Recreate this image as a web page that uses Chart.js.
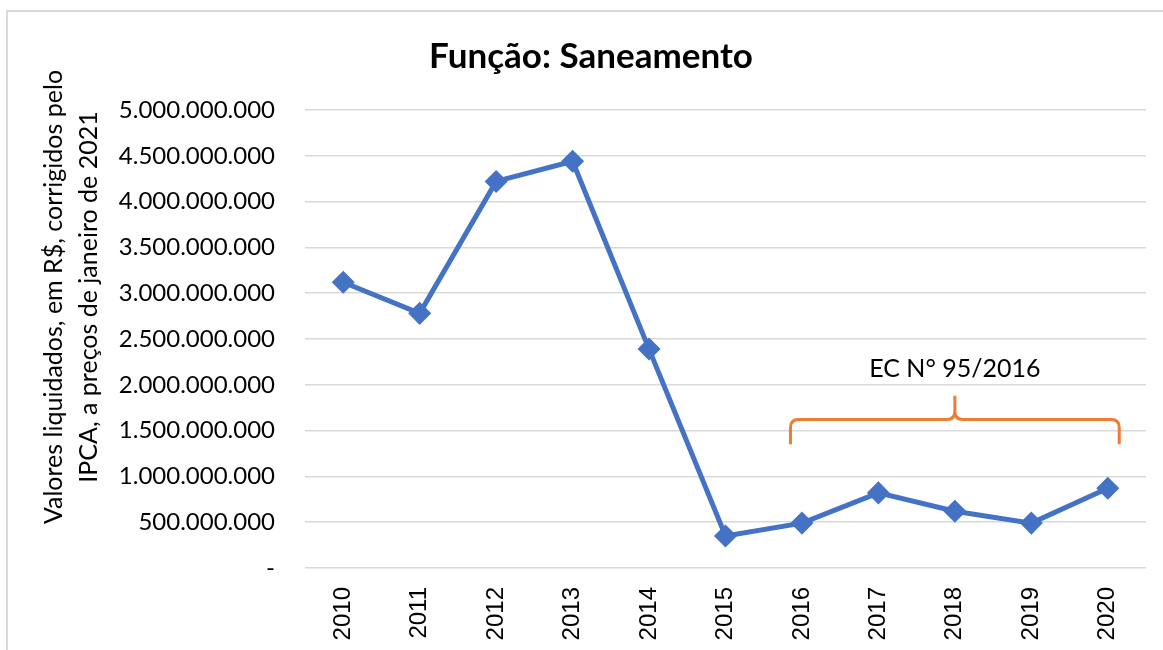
<!DOCTYPE html>
<html>

<head>
    <title>Função: Saneamento</title>
    <script src="https://cdn.jsdelivr.net/npm/chart.js"></script>
    <style>
        body {
            margin: 0;
            background: #ffffff;
        }
    </style>
</head>

<body>
    <canvas id="myChart" width="1163" height="650"></canvas>

    <script>
        // Data
        const years = ['2010', '2011', '2012', '2013', '2014', '2015', '2016', '2017', '2018', '2019', '2020'];
        const valores = [3120000000, 2780000000, 4220000000, 4440000000, 2390000000, 350000000, 490000000, 820000000, 620000000, 490000000, 870000000];
        const yTicks = [0, 500000000, 1000000000, 1500000000, 2000000000, 2500000000, 3000000000, 3500000000, 4000000000, 4500000000, 5000000000];
        const yTitleLines = ['Valores liquidados, em R$, corrigidos pelo', 'IPCA, a preços de janeiro de 2021'];
        const braceYears = ['2016', '2020'];
        const braceLabel = 'EC N° 95/2016';

        function formatBR(v) {
            if (v === 0) return '-';
            return String(v).replace(/\B(?=(\d{3})+(?!\d))/g, '.');
        }

        // Outer frame like the Excel chart area
        const framePlugin = {
            id: 'frame',
            beforeDraw(chart) {
                const c = chart.ctx;
                c.save();
                c.fillStyle = '#ffffff';
                c.fillRect(0, 0, chart.width, chart.height);
                c.strokeStyle = '#d9d9d9';
                c.lineWidth = 2;
                c.beginPath();
                c.moveTo(7, chart.height);
                c.lineTo(7, 11);
                c.lineTo(chart.width, 11);
                c.stroke();
                c.restore();
            }
        };

        // Vertical axis title, two lines, sits a bit above the plot centre in the original
        const yTitlePlugin = {
            id: 'yTitle',
            afterDraw(chart) {
                const c = chart.ctx;
                c.save();
                c.translate(54, 297);
                c.rotate(-Math.PI / 2);
                c.fillStyle = '#000000';
                c.font = '25px Lato';
                c.textAlign = 'center';
                c.textBaseline = 'middle';
                yTitleLines.forEach((t, i) => c.fillText(t, 0, i * 35));
                c.restore();
            }
        };

        // Orange curly brace over 2016-2020 with the label
        const bracePlugin = {
            id: 'brace',
            afterDatasetsDraw(chart) {
                const x = chart.scales.x;
                const y = chart.scales.y;
                const step = x.getPixelForValue(1) - x.getPixelForValue(0);
                const x0 = x.getPixelForValue(years.indexOf(braceYears[0])) - step * 0.15;
                const x1 = x.getPixelForValue(years.indexOf(braceYears[1])) + step * 0.15;
                const xm = (x0 + x1) / 2;
                const yTip = y.getPixelForValue(1350000000);
                const yBar = y.getPixelForValue(1620000000);
                const yTop = y.getPixelForValue(1880000000);
                const r = 8;
                const c = chart.ctx;
                c.save();
                c.strokeStyle = '#ED7D31';
                c.lineWidth = 3;
                c.lineJoin = 'round';
                c.beginPath();
                c.moveTo(x0, yTip);
                c.lineTo(x0, yBar + r);
                c.quadraticCurveTo(x0, yBar, x0 + r, yBar);
                c.lineTo(xm - r, yBar);
                c.quadraticCurveTo(xm, yBar, xm, yBar - r);
                c.lineTo(xm, yTop);
                c.moveTo(xm, yBar - r);
                c.quadraticCurveTo(xm, yBar, xm + r, yBar);
                c.lineTo(x1 - r, yBar);
                c.quadraticCurveTo(x1, yBar, x1, yBar + r);
                c.lineTo(x1, yTip);
                c.stroke();

                c.fillStyle = '#000000';
                c.font = '25px Lato';
                c.textAlign = 'center';
                c.textBaseline = 'alphabetic';
                c.fillText(braceLabel, xm, y.getPixelForValue(2080000000));
                c.restore();
            }
        };

        const ctx = document.getElementById('myChart').getContext('2d');

        const myChart = new Chart(ctx, {
            type: 'line',
            data: {
                labels: years,
                datasets: [{
                    label: 'Saneamento',
                    data: valores,
                    borderColor: '#4472C4',
                    backgroundColor: '#4472C4',
                    borderWidth: 5,
                    pointStyle: 'rectRot',
                    pointRadius: 8,
                    pointHoverRadius: 8,
                    tension: 0
                }]
            },
            options: {
                responsive: false,
                animation: false,
                layout: {
                    // left/right padding also centres the title where Excel put it
                    padding: { top: 0, left: 36, right: 17, bottom: 0 }
                },
                plugins: {
                    legend: { display: false },
                    tooltip: { enabled: false },
                    title: {
                        display: true,
                        text: 'Função: Saneamento',
                        color: '#000000',
                        font: { family: 'Lato', size: 35, weight: 'bold', lineHeight: 1.2 },
                        padding: { top: 36, bottom: 32 }
                    }
                },
                scales: {
                    x: {
                        offset: true,
                        grid: { display: false },
                        border: { display: false },
                        ticks: {
                            color: '#000000',
                            font: { family: 'Liberation Sans', size: 24 },
                            minRotation: 90,
                            maxRotation: 90,
                            padding: 11
                        },
                        afterFit(scale) {
                            scale.height = 82;
                        }
                    },
                    y: {
                        min: 0,
                        max: 5000000000,
                        afterBuildTicks(scale) {
                            scale.ticks = yTicks.map(v => ({ value: v }));
                        },
                        grid: { color: '#d9d9d9', lineWidth: 1.5, drawTicks: false },
                        border: { display: false },
                        ticks: {
                            color: '#000000',
                            font: { family: 'Lato', size: 24 },
                            padding: 30,
                            callback: v => formatBR(v)
                        },
                        afterFit(scale) {
                            scale.width = 269;
                        }
                    }
                }
            },
            plugins: [framePlugin, yTitlePlugin, bracePlugin]
        });
    </script>
</body>

</html>
